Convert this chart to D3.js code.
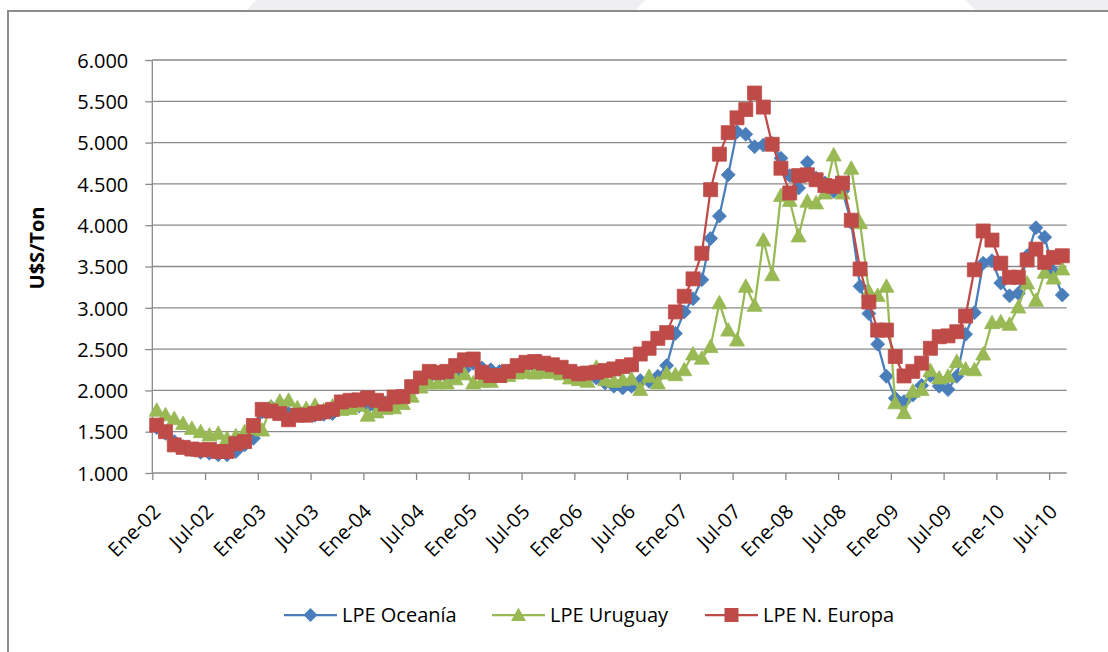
<!DOCTYPE html>
<html>
<head>
<meta charset="utf-8">
<script src="https://cdnjs.cloudflare.com/ajax/libs/d3/7.8.5/d3.min.js"></script>
<style>
body { margin: 0; background: #fff; }
svg text { font-family: "Open Sans", sans-serif; fill: #000; }
</style>
</head>
<body>
<div id="plot"></div>
<script>
// monthly categories Ene-02 .. Ago-10
var monthNames = ["Ene","Feb","Mar","Abr","May","Jun","Jul","Ago","Sep","Oct","Nov","Dic"];
var years = ["02","03","04","05","06","07","08","09","10"];
var months = [];
years.forEach(function(yy) {
    monthNames.forEach(function(m) { months.push(m + "-" + yy); });
});
months = months.slice(0, 104);

var tickLabels = ["Ene-02","Jul-02","Ene-03","Jul-03","Ene-04","Jul-04","Ene-05","Jul-05",
    "Ene-06","Jul-06","Ene-07","Jul-07","Ene-08","Jul-08","Ene-09","Jul-09","Ene-10","Jul-10"];
var yTicks = [1000,1500,2000,2500,3000,3500,4000,4500,5000,5500,6000];

var oceania = [
    1550,1480,1380,1320,1280,1250,1240,1220,1220,1260,1340,1420,
    1740,1800,1760,1720,1700,1700,1700,1710,1720,1800,1820,1810,
    1800,1790,1850,1880,1920,2000,2080,2160,2170,2170,2200,2250,
    2330,2270,2250,2230,2230,2270,2280,2290,2270,2250,2230,2210,
    2200,2180,2150,2090,2050,2030,2050,2120,2110,2170,2300,2690,
    2950,3110,3340,3840,4110,4610,5130,5100,4950,4970,4990,4810,
    4600,4450,4760,4570,4510,4410,4410,4030,3260,2930,2560,2170,
    1905,1865,1945,2060,2180,2050,2010,2170,2680,2940,3540,3570,
    3300,3145,3175,3630,3970,3855,3440,3155];

var uruguay = [
    1760,1705,1660,1600,1540,1500,1460,1480,1420,1450,1500,1540,
    1520,1800,1870,1880,1790,1780,1820,1760,1810,1770,1780,1820,
    1700,1740,1780,1790,1840,1930,2040,2090,2090,2090,2140,2200,
    2090,2110,2110,2170,2180,2210,2220,2210,2220,2220,2200,2150,
    2130,2110,2280,2130,2110,2130,2140,2010,2170,2090,2210,2190,
    2250,2440,2390,2530,3060,2730,2610,3260,3030,3820,3400,4360,
    4300,3870,4290,4270,4390,4850,4390,4690,4030,3200,3150,3260,
    1850,1730,1990,2010,2240,2150,2170,2350,2260,2250,2440,2820,
    2830,2800,3010,3300,3090,3430,3360,3470];

var europa = [
    1580,1500,1340,1310,1290,1280,1285,1260,1260,1355,1380,1575,
    1770,1750,1720,1645,1700,1700,1720,1740,1770,1860,1880,1885,
    1910,1880,1835,1920,1925,2045,2150,2230,2215,2230,2300,2370,
    2380,2220,2180,2180,2230,2300,2340,2350,2330,2310,2280,2230,
    2200,2210,2220,2240,2260,2290,2310,2440,2510,2630,2700,2950,
    3140,3350,3660,4430,4860,5120,5300,5400,5600,5430,4980,4690,
    4390,4600,4610,4550,4480,4470,4510,4060,3470,3070,2730,2730,
    2410,2175,2230,2330,2510,2650,2660,2710,2900,3460,3930,3820,
    3540,3370,3370,3580,3710,3550,3610,3630];

var seriesNames = ["LPE Oceanía", "LPE Uruguay", "LPE N. Europa"];

var width = 1108, height = 652;
var plotLeft = 152.3, plotRight = 1066.7, plotTop = 60, plotBottom = 473;
var gridColor = "#8a8a8a";

var series = [
    {name: seriesNames[0], values: oceania, color: "#4a7ebb", shape: "diamond", lx: 284},
    {name: seriesNames[1], values: uruguay, color: "#98b954", shape: "triangle", lx: 492},
    {name: seriesNames[2], values: europa, color: "#be4b48", shape: "square", lx: 705}
];

var xScale = d3.scaleLinear().domain([0, months.length]).range([plotLeft, plotRight]);
var yScale = d3.scaleLinear().domain([1000, 6000]).range([plotBottom, plotTop]);

var fmt = d3.formatLocale({decimal: ",", thousands: ".", grouping: [3], currency: ["$", ""]}).format(",d");

var svg = d3.select("#plot").append("svg")
    .attr("width", width)
    .attr("height", height);

// faint page background strip above the chart frame
svg.append("path").attr("d", "M256,0 L645,0 L636,10 L247,10 Z").attr("fill", "#efeff1");
svg.append("path").attr("d", "M965,0 L1108,0 L1108,10 L975,10 Z").attr("fill", "#efeff1");

// chart frame
svg.append("path")
    .attr("d", "M8,652 L8,11 L1108,11")
    .attr("fill", "none")
    .attr("stroke", "#8c8c8c")
    .attr("stroke-width", 2);

// horizontal grid
svg.append("g")
    .selectAll("line")
    .data(yTicks.slice(1)).enter()
    .append("line")
    .attr("x1", plotLeft).attr("x2", plotRight)
    .attr("y1", function(d) { return yScale(d); })
    .attr("y2", function(d) { return yScale(d); })
    .attr("stroke", gridColor)
    .attr("stroke-width", 1.3);

// y axis
var yAxis = d3.axisLeft(yScale).tickValues(yTicks).tickSize(7).tickPadding(17).tickFormat(fmt);
var gy = svg.append("g")
    .attr("transform", "translate(" + plotLeft + ",0)")
    .call(yAxis);
gy.select(".domain").attr("stroke", gridColor).attr("stroke-width", 1.3)
    .attr("d", "M0," + plotTop + "V" + plotBottom);
gy.selectAll(".tick line").attr("stroke", gridColor).attr("stroke-width", 1.3);
gy.selectAll(".tick text").style("font-size", "20px").attr("dy", "0.36em");

// x axis
var xTickVals = tickLabels.map(function(d, i) { return i * 6; });
var xAxis = d3.axisBottom(xScale).tickValues(xTickVals).tickSize(7)
    .tickFormat(function(d) { return tickLabels[d / 6]; });
var gx = svg.append("g")
    .attr("transform", "translate(0," + plotBottom + ")")
    .call(xAxis);
gx.select(".domain").attr("stroke", gridColor).attr("stroke-width", 1.3)
    .attr("d", "M" + plotLeft + ",0H" + plotRight);
gx.selectAll(".tick line").attr("stroke", gridColor).attr("stroke-width", 1.3);
gx.selectAll(".tick text")
    .style("font-size", "20px")
    .attr("x", 0).attr("y", 0).attr("dy", "0.35em")
    .attr("text-anchor", "end")
    .attr("transform", "translate(4,35) rotate(-45)");

// y axis title
svg.append("text")
    .attr("transform", "translate(44,248) rotate(-90)")
    .attr("text-anchor", "middle")
    .style("font-size", "20px")
    .style("font-weight", "bold")
    .text("U$S/Ton");

function markerPath(shape) {
    if (shape == "diamond") return "M0,-7L7,0L0,7L-7,0Z";
    if (shape == "triangle") return "M0,-7.5L7.5,6L-7.5,6Z";
    return "M-7,-7H7V7H-7Z";
}

var line = d3.line()
    .x(function(d, i) { return xScale(i + 0.5); })
    .y(function(d) { return yScale(d); });

series.forEach(function(s) {
    var g = svg.append("g");
    g.append("path")
        .datum(s.values)
        .attr("d", line)
        .attr("fill", "none")
        .attr("stroke", s.color)
        .attr("stroke-width", 2.25)
        .attr("stroke-linejoin", "round");
    g.selectAll(".pt")
        .data(s.values).enter()
        .append("path")
        .attr("class", "pt")
        .attr("d", markerPath(s.shape))
        .attr("transform", function(d, i) { return "translate(" + xScale(i + 0.5) + "," + yScale(d) + ")"; })
        .attr("fill", s.color)
        .attr("stroke", s.color)
        .attr("stroke-width", 0.8);
});

// legend
var legendY = 615;
series.forEach(function(s) {
    var lg = svg.append("g").attr("transform", "translate(" + s.lx + "," + legendY + ")");
    lg.append("line")
        .attr("x1", 0).attr("x2", 53)
        .attr("stroke", s.color)
        .attr("stroke-width", 2.25);
    lg.append("path")
        .attr("d", markerPath(s.shape))
        .attr("transform", "translate(26.5,0)")
        .attr("fill", s.color);
    lg.append("text")
        .attr("x", 58)
        .attr("dy", "0.36em")
        .style("font-size", "20px")
        .text(s.name);
});
</script>
</body>
</html>
